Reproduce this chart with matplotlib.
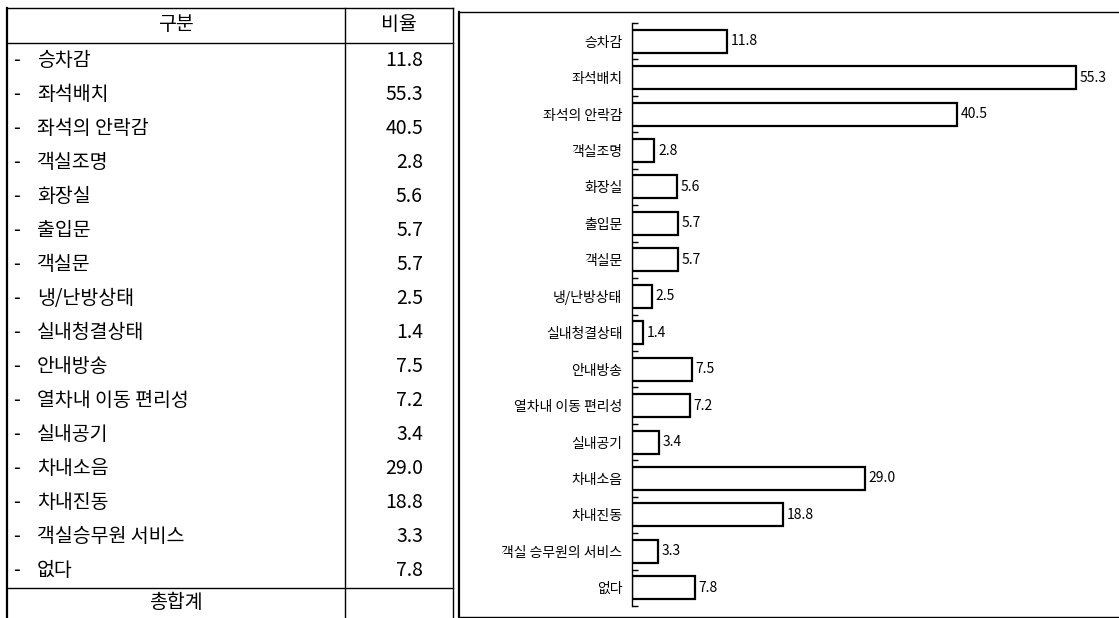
import matplotlib
matplotlib.use("Agg")
import matplotlib.pyplot as plt
import numpy as np

plt.rcParams['font.family'] = ['Noto Sans CJK KR', 'DejaVu Sans']

# table data (left)
table_labels = ["승차감", "좌석배치", "좌석의 안락감", "객실조명", "화장실", "출입문",
                "객실문", "냉/난방상태", "실내청결상태", "안내방송", "열차내 이동 편리성",
                "실내공기", "차내소음", "차내진동", "객실승무원 서비스", "없다"]
table_values = ["11.8", "55.3", "40.5", "2.8", "5.6", "5.7", "5.7", "2.5", "1.4",
                "7.5", "7.2", "3.4", "29.0", "18.8", "3.3", "7.8"]

# chart data (right)
chart_labels = ["승차감", "좌석배치", "좌석의 안락감", "객실조명", "화장실", "출입문",
                "객실문", "냉/난방상태", "실내청결상태", "안내방송", "열차내 이동 편리성",
                "실내공기", "차내소음", "차내진동", "객실 승무원의 서비스", "없다"]
chart_values = [11.8, 55.3, 40.5, 2.8, 5.6, 5.7, 5.7, 2.5, 1.4,
                7.5, 7.2, 3.4, 29.0, 18.8, 3.3, 7.8]

W, H = 1119, 618
fig = plt.figure(figsize=(W / 100, H / 100), dpi=100)

# background axes in pixel coordinates for the table and panel frame
bg = fig.add_axes([0, 0, 1, 1])
bg.set_xlim(0, W)
bg.set_ylim(H, 0)
bg.axis("off")

lw = 1.0
# table frame
bg.plot([7, 7], [8, H], color="black", lw=1.6)
bg.plot([7, 453], [8, 8], color="black", lw=lw)
bg.plot([7, 453], [43, 43], color="black", lw=lw)
bg.plot([345, 345], [8, H], color="black", lw=lw)
bg.plot([453, 453], [8, H], color="black", lw=lw)
row_top, row_h = 43, (588 - 43) / 16
bg.plot([7, 453], [588, 588], color="black", lw=lw)

bg.text(176, 25, "구분", ha="center", va="center", fontsize=14)
bg.text(399, 25, "비율", ha="center", va="center", fontsize=14)
for i, (lab, val) in enumerate(zip(table_labels, table_values)):
    y = row_top + row_h * (i + 0.5)
    bg.text(13, y, "-", ha="left", va="center", fontsize=14)
    bg.text(37, y, lab, ha="left", va="center", fontsize=14)
    bg.text(423, y, val, ha="right", va="center", fontsize=14)
bg.text(176, 603, "총합계", ha="center", va="center", fontsize=14)

# chart panel frame
bg.plot([459, 459], [12, 617], color="black", lw=1.6)
bg.plot([459, W], [12, 12], color="black", lw=lw)
bg.plot([459, W], [617, 617], color="black", lw=lw)

# bar chart
ax_left, ax_top, ax_bot = 632, 23, 606
px_per_unit = (1076 - 632) / 55.3
xmax = (1117 - ax_left) / px_per_unit
ax = fig.add_axes([ax_left / W, 1 - ax_bot / H, (1117 - ax_left) / W, (ax_bot - ax_top) / H])
ax.patch.set_alpha(0)
n = len(chart_values)
pos = np.arange(n)
ax.barh(pos, chart_values, height=0.63, color="white", edgecolor="black", linewidth=1.6)
ax.set_ylim(n - 0.5, -0.5)
ax.set_xlim(0, xmax)
for p, v in zip(pos, chart_values):
    ax.text(v + 0.45, p, "%.1f" % v, ha="left", va="center", fontsize=10)

ax.set_yticks(pos)
ax.set_yticklabels(chart_labels, fontsize=10)
ax.set_yticks(np.arange(-0.5, n), minor=True)
ax.tick_params(axis="y", which="major", length=0, pad=7)
ax.tick_params(axis="y", which="minor", direction="in", length=4, width=1)
ax.set_xticks([])
for s in ["top", "right", "bottom"]:
    ax.spines[s].set_visible(False)
ax.spines["left"].set_linewidth(1.0)

fig.savefig("out.png", dpi=100)
